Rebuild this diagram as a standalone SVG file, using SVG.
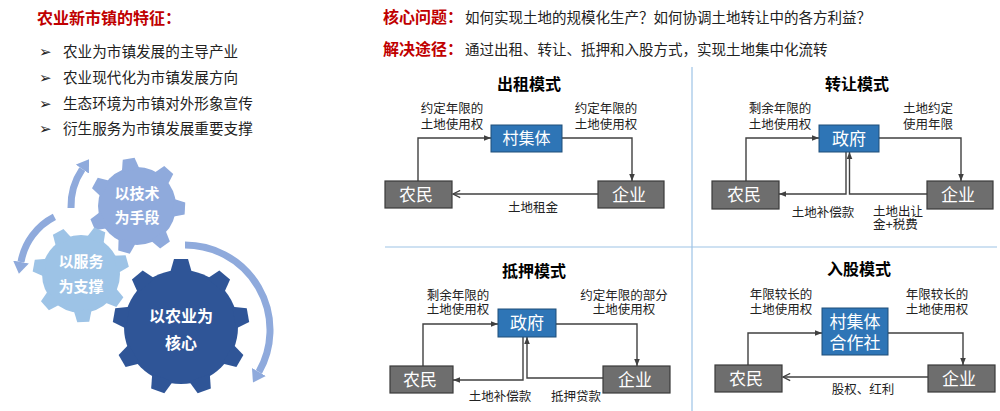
<svg xmlns="http://www.w3.org/2000/svg" xmlns:xlink="http://www.w3.org/1999/xlink" width="1000" height="411" viewBox="0 0 1000 411">
<style>
text{font-family:'Liberation Sans','Noto Sans CJK SC',sans-serif}
.red{fill:#c00000;font-weight:bold;font-size:16px}
.body{fill:#222;font-size:14.5px}
.li{fill:#222;font-size:14.6px}
.bul{fill:#222;font-size:15px;font-family:'DejaVu Sans',sans-serif}
.lbl{fill:#222;font-size:12.5px;text-anchor:middle}
.lbs{fill:#222;font-size:12.5px}
.ttl{fill:#000;font-size:16px;font-weight:bold;text-anchor:middle}
.bxb{fill:#2e75b6;stroke:#1f4e79;stroke-width:1}
.bxg{fill:#6e6e6e;stroke:#3a3a3a;stroke-width:1.2}
.bt{fill:#fff;font-size:17px;text-anchor:middle}
.ln{fill:none;stroke:#404040;stroke-width:1.4}
.gt{fill:#fff;font-weight:bold;font-size:15px;text-anchor:middle}
.arc{fill:none;stroke:#8faadc;stroke-width:7}
.div{stroke:#9dc3e6;stroke-width:1.2}
</style>
<defs>
<marker id="ah" viewBox="0 0 10 10" refX="10" refY="5" markerWidth="7" markerHeight="7" markerUnits="userSpaceOnUse" orient="auto"><path d="M0,1 L10,5 L0,9 z" fill="#404040"/></marker>
<marker id="ao" viewBox="0 0 10 10" refX="9" refY="5" markerWidth="9" markerHeight="9" markerUnits="userSpaceOnUse" orient="auto"><path d="M1,1 L9,5 L1,9" fill="none" stroke="#404040" stroke-width="1.4"/></marker>
<marker id="ga" viewBox="0 0 12 16" refX="0" refY="8" markerWidth="12" markerHeight="16" markerUnits="userSpaceOnUse" orient="auto"><path d="M0,0 L12,8 L0,16 z" fill="#8faadc"/></marker>
<polygon id="tb" points="-11,-54 -7,-68 7,-68 11,-54"/>
<polygon id="ts" points="-9,-36 -6,-48 6,-48 9,-36"/>
</defs>

<!-- left panel text -->
<g id="features">
<text x="37" y="23.5" class="red">农业新市镇的特征：</text>
<text x="39" y="57" class="bul">➢</text><text x="63" y="57" class="li">农业为市镇发展的主导产业</text>
<text x="39" y="83" class="bul">➢</text><text x="63" y="83" class="li">农业现代化为市镇发展方向</text>
<text x="39" y="109" class="bul">➢</text><text x="63" y="109" class="li">生态环境为市镇对外形象宣传</text>
<text x="39" y="134" class="bul">➢</text><text x="63" y="134" class="li">衍生服务为市镇发展重要支撑</text>
</g>

<!-- gears -->
<g id="gear-tech" fill="#8faadc" transform="translate(137,206)">
<circle r="39"/>
<use xlink:href="#ts" transform="rotate(-10)"/><use xlink:href="#ts" transform="rotate(41.4)"/><use xlink:href="#ts" transform="rotate(92.9)"/><use xlink:href="#ts" transform="rotate(144.3)"/><use xlink:href="#ts" transform="rotate(195.7)"/><use xlink:href="#ts" transform="rotate(247.1)"/><use xlink:href="#ts" transform="rotate(298.6)"/>
<text x="0" y="-7.5" class="gt">以技术</text>
<text x="0" y="16.5" class="gt">为手段</text>
</g>
<g id="gear-service" fill="#9dc3e6" transform="translate(81,274)">
<circle r="39"/>
<use xlink:href="#ts" transform="rotate(23)"/><use xlink:href="#ts" transform="rotate(74.4)"/><use xlink:href="#ts" transform="rotate(125.9)"/><use xlink:href="#ts" transform="rotate(177.3)"/><use xlink:href="#ts" transform="rotate(228.7)"/><use xlink:href="#ts" transform="rotate(280.1)"/><use xlink:href="#ts" transform="rotate(331.6)"/>
<text x="0" y="-7" class="gt">以服务</text>
<text x="0" y="18" class="gt">为支撑</text>
</g>
<g id="gear-core" fill="#2f5597" transform="translate(181,327)">
<circle r="57"/>
<use xlink:href="#tb" transform="rotate(0)"/><use xlink:href="#tb" transform="rotate(40)"/><use xlink:href="#tb" transform="rotate(80)"/><use xlink:href="#tb" transform="rotate(120)"/><use xlink:href="#tb" transform="rotate(160)"/><use xlink:href="#tb" transform="rotate(200)"/><use xlink:href="#tb" transform="rotate(240)"/><use xlink:href="#tb" transform="rotate(280)"/><use xlink:href="#tb" transform="rotate(320)"/>
<text x="0" y="-5" class="gt" style="font-size:16px">以农业为</text>
<text x="0" y="22" class="gt" style="font-size:16px">核心</text>
</g>
<g id="gear-arrows">
<path class="arc" d="M71,208 A66,66 0 0 1 82.3,169.1" marker-end="url(#ga)"/>
<path class="arc" d="M54.4,216.9 A63,63 0 0 0 21,262" marker-end="url(#ga)"/>
<path class="arc" d="M185,245 A85,85 0 0 1 258.9,372" marker-end="url(#ga)"/>
</g>

<!-- header -->
<g id="header">
<text x="383" y="22.7" class="red">核心问题：</text>
<text x="465" y="22.7" class="body">如何实现土地的规模化生产？如何协调土地转让中的各方利益？</text>
<text x="383" y="54.5" class="red">解决途径：</text>
<text x="465" y="54.5" class="body">通过出租、转让、抵押和入股方式，实现土地集中化流转</text>
</g>

<g id="dividers">
<line class="div" x1="692" y1="67" x2="692" y2="411"/>
<line class="div" x1="385" y1="247" x2="997" y2="247"/>
</g>

<!-- titles and labels -->
<g id="titles">
<text x="529" y="90" class="ttl">出租模式</text>
<text x="857" y="90" class="ttl">转让模式</text>
<text x="534" y="277" class="ttl">抵押模式</text>
<text x="859" y="275" class="ttl">入股模式</text>
</g>

<!-- connectors -->
<g id="connectors">
<path class="ln" d="M418,181 V138 H491" marker-end="url(#ah)"/>
<path class="ln" d="M562,138 H632 V181" marker-end="url(#ah)"/>
<path class="ln" d="M598,194 H453" marker-end="url(#ao)"/>

<path class="ln" d="M746,181 V138 H819" marker-end="url(#ah)"/>
<path class="ln" d="M879,138 H961 V181" marker-end="url(#ah)"/>
<path class="ln" d="M846,152 V194 H779" marker-end="url(#ah)"/>
<path class="ln" d="M927,194 H849.5 V152" marker-end="url(#ah)"/>

<path class="ln" d="M423,366 V324 H498" marker-end="url(#ah)"/>
<path class="ln" d="M556,324 H637 V366" marker-end="url(#ah)"/>
<path class="ln" d="M523,337 V380 H453" marker-end="url(#ah)"/>
<path class="ln" d="M603,378 H527 V337" marker-end="url(#ah)"/>

<path class="ln" d="M748,365 V333 H822" marker-end="url(#ah)"/>
<path class="ln" d="M888,333 H963 V365" marker-end="url(#ah)"/>
<path class="ln" d="M928,377 H783" marker-end="url(#ao)"/>
</g>

<g id="edge-labels">
<text x="452" y="113" class="lbl">约定年限的</text><text x="452" y="129" class="lbl">土地使用权</text>
<text x="606" y="113" class="lbl">约定年限的</text><text x="606" y="129" class="lbl">土地使用权</text>
<text x="533" y="212" class="lbl">土地租金</text>

<text x="780" y="113" class="lbl">剩余年限的</text><text x="780" y="129" class="lbl">土地使用权</text>
<text x="928" y="113" class="lbl">土地约定</text><text x="928" y="129" class="lbl">使用年限</text>
<text x="823" y="216.5" class="lbl">土地补偿款</text>
<text x="873" y="215.5" class="lbs">土地出让</text><text x="873" y="229" class="lbs">金+税费</text>

<text x="458" y="300" class="lbl">剩余年限的</text><text x="458" y="314" class="lbl">土地使用权</text>
<text x="624" y="300" class="lbl">约定年限的部分</text><text x="624" y="314" class="lbl">土地使用权</text>
<text x="500" y="400.5" class="lbl">土地补偿款</text>
<text x="576" y="400.5" class="lbl">抵押贷款</text>

<text x="781" y="299" class="lbl">年限较长的</text><text x="781" y="314" class="lbl">土地使用权</text>
<text x="937" y="299" class="lbl">年限较长的</text><text x="937" y="314" class="lbl">土地使用权</text>
<text x="863" y="394" class="lbl">股权、红利</text>
</g>

<!-- nodes -->
<g id="q1-collective"><rect class="bxb" x="491" y="125" width="71" height="27"/><text x="526.5" y="144" class="bt" style="font-size:16px">村集体</text></g>
<g id="q1-farmer"><rect class="bxg" x="385" y="181" width="67" height="27"/><text x="416" y="200.5" class="bt">农民</text></g>
<g id="q1-enterprise"><rect class="bxg" x="598" y="181" width="66" height="27"/><text x="629" y="200.5" class="bt">企业</text></g>

<g id="q2-gov"><rect class="bxb" x="819" y="125" width="60" height="27"/><text x="849" y="144.5" class="bt">政府</text></g>
<g id="q2-farmer"><rect class="bxg" x="712" y="181" width="67" height="28"/><text x="744" y="201" class="bt">农民</text></g>
<g id="q2-enterprise"><rect class="bxg" x="927" y="181" width="66" height="28"/><text x="958" y="201" class="bt">企业</text></g>

<g id="q3-gov"><rect class="bxb" x="498" y="309" width="58" height="28"/><text x="527" y="329" class="bt">政府</text></g>
<g id="q3-farmer"><rect class="bxg" x="390" y="366" width="63" height="27"/><text x="420" y="386" class="bt">农民</text></g>
<g id="q3-enterprise"><rect class="bxg" x="603" y="366" width="67" height="27"/><text x="635" y="386" class="bt">企业</text></g>

<g id="q4-coop"><rect class="bxb" x="822" y="308" width="66" height="47"/><text x="855" y="328" class="bt">村集体</text><text x="855" y="349" class="bt">合作社</text></g>
<g id="q4-farmer"><rect class="bxg" x="715" y="365" width="67" height="27"/><text x="746" y="385" class="bt">农民</text></g>
<g id="q4-enterprise"><rect class="bxg" x="928" y="365" width="67" height="27"/><text x="959" y="385" class="bt">企业</text></g>
</svg>
